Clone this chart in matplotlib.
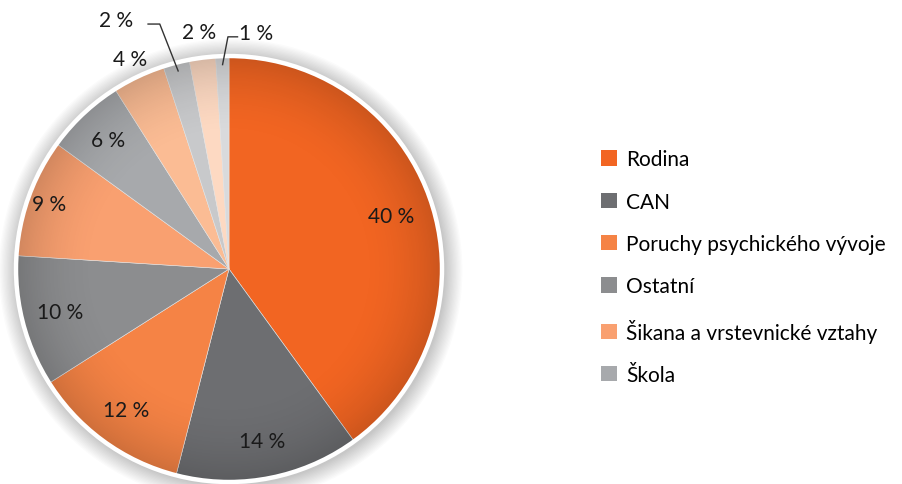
import numpy as np
import matplotlib
matplotlib.use("Agg")
import matplotlib.pyplot as plt
from matplotlib.patches import Circle, Patch

plt.rcParams['font.family'] = ['Lato', 'DejaVu Sans']

# slice values, clockwise from the top
values = [40, 14, 12, 10, 9, 6, 4, 2, 2, 1]
labels = ["Rodina", "CAN", "Poruchy psychického vývoje", "Ostatní",
          "Šikana a vrstevnické vztahy", "Škola", "", "", "", ""]
colors = ["#F26522", "#6D6E71", "#F58345", "#8C8D8F", "#F9A070",
          "#A7A9AC", "#FBBC94", "#C8C9CB", "#FDD9C2", "#D9DADC"]
n_legend = 6

# label distance from centre (in radii) for each slice
label_r = [0.80, 0.82, 0.82, 0.82, 0.90, 0.83, 1.09, None, 1.12, None]
# labels with leader lines: (text x, text y, elbow x, elbow y, tip r)
leaders = {7: (-0.53, 1.17, -0.325, 1.15, 0.96),
           9: (0.125, 1.11, -0.005, 1.09, 0.96)}

W, H = 902, 485
R = 213.0
cx, cy = 229, H - 270
FS = 15

fig = plt.figure(figsize=(W / 100, H / 100), dpi=100)
ax = fig.add_axes([0, 0, 1, 1])

wedges, _ = ax.pie(values, colors=colors, startangle=90, counterclock=False,
                   radius=1.0, wedgeprops=dict(linewidth=0.4, edgecolor='#E6E6E6'))
for w in wedges:
    w.set_zorder(2)

# soft shadow around the pie
for i in range(14):
    ax.add_patch(Circle((0.008, -0.008), 1.0 + 0.006 * i + 0.01,
                        color='black', alpha=0.016, lw=0, zorder=0))

# radial darkening towards the rim
g = np.linspace(-1, 1, 400)
xx, yy = np.meshgrid(g, g)
rr = np.sqrt(xx ** 2 + yy ** 2)
shade = np.zeros((400, 400, 4))
shade[..., 3] = np.clip((rr - 0.6) / 0.4, 0, 1) ** 2 * 0.16
im = ax.imshow(shade, extent=(-1, 1, -1, 1), zorder=3, interpolation='bilinear')
clip = Circle((0, 0), 1.0, transform=ax.transData)
im.set_clip_path(clip)

ax.set_xlim(-cx / R, (W - cx) / R)
ax.set_ylim(-cy / R, (H - cy) / R)
ax.set_aspect('equal')
ax.axis('off')

ax.add_patch(Circle((0, 0), 1.0, fill=False, edgecolor='white', lw=3.2, zorder=4))

for i, w in enumerate(wedges):
    mid = np.deg2rad((w.theta1 + w.theta2) / 2)
    txt = f"{values[i]} %"
    if i in leaders:
        tx, ty, ex, ey, tr = leaders[i]
        px, py = tr * np.cos(mid), tr * np.sin(mid)
        hx = ex - 0.055 if i == 7 else ex + 0.045
        ax.plot([px, ex, hx], [py, ey, ey], color='#333333', lw=1.0, zorder=5,
                clip_on=False)
        ax.text(tx, ty, txt, ha='center', va='center', fontsize=FS,
                color='#1a1a1a', zorder=6)
    else:
        r = label_r[i]
        ax.text(r * np.cos(mid), r * np.sin(mid), txt, ha='center', va='center',
                fontsize=FS, color='#1a1a1a', zorder=6)

handles = [Patch(facecolor=c, edgecolor='none') for c in colors[:n_legend]]
fig.legend(handles, labels[:n_legend], loc='upper left',
           bbox_to_anchor=(593 / W, 1 - 142 / H), frameon=False,
           fontsize=FS, handlelength=0.75, handleheight=0.75,
           handletextpad=0.45, labelspacing=1.07, borderaxespad=0)

fig.savefig("out.png", dpi=100)
